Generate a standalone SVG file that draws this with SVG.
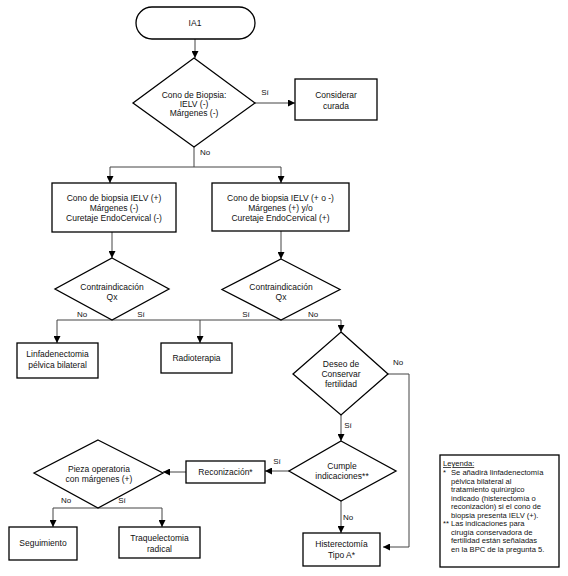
<svg xmlns="http://www.w3.org/2000/svg" width="568" height="576" viewBox="0 0 568 576">
<defs>
<marker id="ah" viewBox="0 0 10 10" refX="10" refY="5" markerWidth="7" markerHeight="7" markerUnits="userSpaceOnUse" orient="auto">
<path d="M0,0 L10,5 L0,10 z" fill="#000"/>
</marker>
<style>
.n{fill:#fff;stroke:#000;stroke-width:1.3}
.t{font-family:"Liberation Sans",Arial,sans-serif;font-size:8.5px;fill:#111;text-anchor:middle}
.l{font-family:"Liberation Sans",Arial,sans-serif;font-size:8px;fill:#111;text-anchor:middle}
.c{fill:none;stroke:#444;stroke-width:1}
.a{marker-end:url(#ah)}
.g{font-family:"Liberation Sans",Arial,sans-serif;font-size:7.6px;fill:#111}
</style>
</defs>
<rect width="568" height="576" fill="#fff"/>
<g id="connectors">
<path class="c a" d="M195,39 V58"/>
<path class="c a" d="M255,103 H295"/>
<path class="c" d="M194,147 V167 M110,167 H281"/>
<path class="c a" d="M110,167 V183"/>
<path class="c a" d="M281,167 V183"/>
<path class="c a" d="M112,232 V258"/>
<path class="c a" d="M281,231 V259"/>
<path class="c" d="M57,320 H341"/>
<path class="c a" d="M57,320 V343"/>
<path class="c a" d="M200,320 V343"/>
<path class="c a" d="M341,320 V332"/>
<path class="c a" d="M388,374 H409 V547 H383"/>
<path class="c a" d="M341,415 V441"/>
<path class="c a" d="M289,471 H265"/>
<path class="c a" d="M186,472 H163"/>
<path class="c" d="M53,508 H162"/>
<path class="c a" d="M53,508 V527"/>
<path class="c a" d="M162,508 V527"/>
<path class="c a" d="M341,501 V533"/>
<text class="l" x="265" y="95">Sí</text>
<text class="l" x="205" y="155">No</text>
<text class="l" x="82" y="317">No</text>
<text class="l" x="141" y="317">Sí</text>
<text class="l" x="246" y="317">Sí</text>
<text class="l" x="313" y="317">No</text>
<text class="l" x="398" y="365">No</text>
<text class="l" x="348" y="428">Sí</text>
<text class="l" x="277" y="464">Sí</text>
<text class="l" x="348" y="520">No</text>
<text class="l" x="66" y="503">No</text>
<text class="l" x="122" y="503">Sí</text>
</g>
<g id="ia1">
<rect class="n" x="136" y="7" width="119" height="32" rx="16"/>
<text class="t" x="195" y="26">IA1</text>
</g>
<g id="d-cono">
<polygon class="n" points="194,58 255,103 194,147 133,103"/>
<text class="t" x="194" y="98">Cono de Biopsia:</text>
<text class="t" x="194" y="107">IELV (-)</text>
<text class="t" x="194" y="116">Márgenes (-)</text>
</g>
<g id="considerar">
<rect class="n" x="295" y="79" width="82" height="41"/>
<text class="t" x="336" y="98">Considerar</text>
<text class="t" x="336" y="109">curada</text>
</g>
<g id="box-left">
<rect class="n" x="52" y="183" width="124" height="49"/>
<text class="t" x="114" y="201">Cono de biopsia IELV (+)</text>
<text class="t" x="114" y="211">Márgenes (-)</text>
<text class="t" x="114" y="221">Curetaje EndoCervical (-)</text>
</g>
<g id="box-right">
<rect class="n" x="212" y="183" width="137" height="48"/>
<text class="t" x="280.5" y="201">Cono de biopsia IELV (+ o -)</text>
<text class="t" x="280.5" y="211">Márgenes (+)  y/o</text>
<text class="t" x="280.5" y="221">Curetaje EndoCervical (+)</text>
</g>
<g id="d-contra-left">
<polygon class="n" points="112,258 169,289 112,320 55,289"/>
<text class="t" x="112" y="290">Contraindicación</text>
<text class="t" x="112" y="300">Qx</text>
</g>
<g id="d-contra-right">
<polygon class="n" points="281,259 340,289.5 281,320 222,289.5"/>
<text class="t" x="281" y="290">Contraindicación</text>
<text class="t" x="281" y="300">Qx</text>
</g>
<g id="linfadenectomia">
<rect class="n" x="17" y="343" width="81" height="35"/>
<text class="t" x="57.5" y="357">Linfadenectomia</text>
<text class="t" x="57.5" y="368">pélvica bilateral</text>
</g>
<g id="radioterapia">
<rect class="n" x="161" y="343" width="71" height="30"/>
<text class="t" x="196.5" y="361">Radioterapia</text>
</g>
<g id="d-deseo">
<polygon class="n" points="341,332 388,374 341,415 293,374"/>
<text class="t" x="341" y="367">Deseo de</text>
<text class="t" x="341" y="377">Conservar</text>
<text class="t" x="341" y="387">fertilidad</text>
</g>
<g id="d-cumple">
<polygon class="n" points="341,441 396,471 341,501 289,471"/>
<text class="t" x="342" y="469">Cumple</text>
<text class="t" x="342" y="479">indicaciones**</text>
</g>
<g id="reconizacion">
<rect class="n" x="186" y="461" width="79" height="22"/>
<text class="t" x="225.5" y="475">Reconización*</text>
</g>
<g id="d-pieza">
<polygon class="n" points="98,440 163,473 98,508 34,473"/>
<text class="t" x="99" y="472">Pieza operatoria</text>
<text class="t" x="99" y="482">con márgenes (+)</text>
</g>
<g id="seguimiento">
<rect class="n" x="9" y="527" width="68" height="33"/>
<text class="t" x="43" y="546">Seguimiento</text>
</g>
<g id="traquelectomia">
<rect class="n" x="119" y="527" width="81" height="31"/>
<text class="t" x="159.5" y="541">Traquelectomia</text>
<text class="t" x="159.5" y="552">radical</text>
</g>
<g id="histerectomia">
<rect class="n" x="303" y="533" width="77" height="33"/>
<text class="t" x="341.5" y="547">Histerectomía</text>
<text class="t" x="341.5" y="558">Tipo A*</text>
</g>
<g id="leyenda">
<rect class="n" x="440" y="455" width="119" height="112"/>
<text class="g" x="443" y="466" text-decoration="underline">Leyenda:</text>
<text class="g" x="443" y="475">*</text>
<text class="g" x="451" y="475">Se añadirá linfadenectomía</text>
<text class="g" x="451" y="483.5">pélvica bilateral al</text>
<text class="g" x="451" y="492">tratamiento quirúrgico</text>
<text class="g" x="451" y="500.5">indicado (histerectomía o</text>
<text class="g" x="451" y="509">reconización) si el cono de</text>
<text class="g" x="451" y="517.5">biopsia presenta IELV (+).</text>
<text class="g" x="443" y="526">**</text>
<text class="g" x="451" y="526">Las indicaciones para</text>
<text class="g" x="451" y="534.5">cirugía conservadora de</text>
<text class="g" x="451" y="543">fertilidad están señaladas</text>
<text class="g" x="451" y="551.5">en la BPC de la pregunta 5.</text>
</g>
</svg>
